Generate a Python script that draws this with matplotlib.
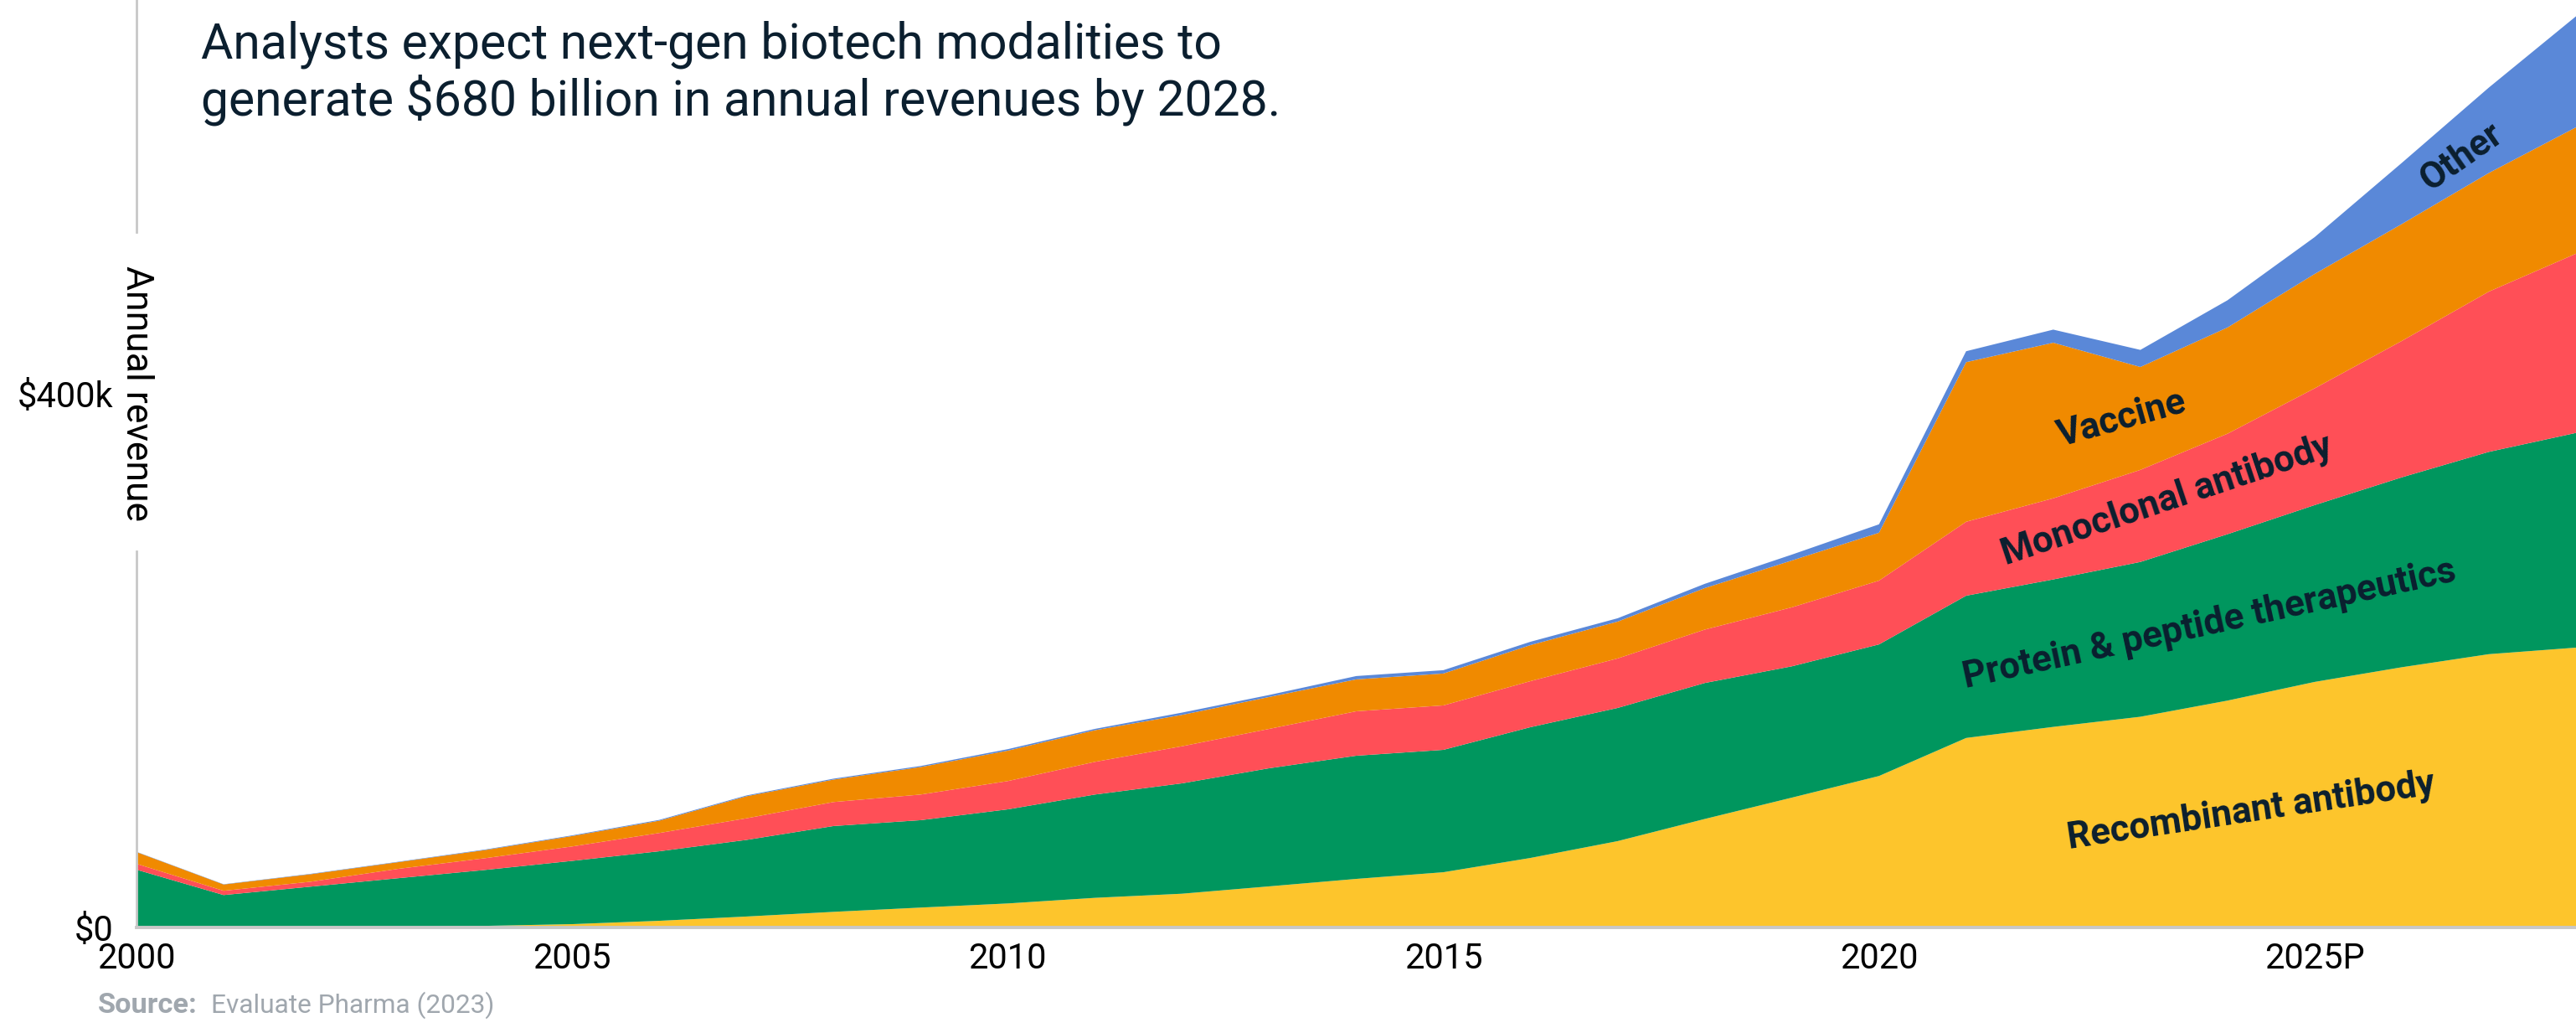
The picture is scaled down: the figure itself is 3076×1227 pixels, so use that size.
import matplotlib
matplotlib.use("Agg")
import matplotlib.pyplot as plt
import numpy as np

plt.rcParams['font.family'] = ['Roboto', 'DejaVu Sans']

years = list(range(2000, 2029))
tick_years = [2000, 2005, 2010, 2015, 2020, 2025]
tick_labels = ['2000', '2005', '2010', '2015', '2020', '2025P']

# annual revenue
recombinant = [0, 0, 0, 0.3, 1.2, 2.5, 5.0, 8.2, 11.7, 14.9, 18.0, 22.2, 25.3, 30.8,
               36.4, 41.4, 52.1, 64.7, 81.3, 97.3, 113.5, 142.0, 150.3, 157.9, 170.0,
               184.0, 195.0, 204.8, 209.7]
protein = [43.3, 24.3, 30.6, 36.6, 41.9, 47.4, 52.1, 57.4, 64.3, 65.5, 70.5, 77.4, 82.7,
           88.5, 92.3, 91.7, 98.0, 99.8, 101.9, 98.4, 98.6, 106.6, 110.5, 116.0, 124.7,
           132.5, 142.3, 151.6, 160.9]
monoclonal = [4.4, 3.2, 3.7, 7.0, 8.8, 10.8, 13.7, 16.2, 18.0, 19.2, 21.2, 24.5, 27.8,
              29.5, 33.3, 33.3, 34.5, 37.1, 40.0, 44.2, 47.8, 55.4, 60.8, 69.0, 75.3,
              87.5, 102.2, 120.1, 134.3]
vaccine = [8.8, 4.7, 5.6, 5.0, 6.1, 7.8, 9.2, 16.5, 16.8, 20.6, 22.8, 23.7, 23.5, 23.9,
           23.9, 23.9, 27.0, 27.6, 31.1, 35.1, 35.9, 119.6, 116.6, 77.1, 79.6, 85.7,
           87.6, 88.9, 94.7]
other = [0.2, 0.2, 0.3, 0.3, 0.4, 0.5, 0.6, 0.6, 0.7, 0.8, 1.1, 1.0, 1.7, 1.5, 2.5, 2.5,
         2.5, 2.5, 3.2, 4.4, 6.3, 8.2, 9.8, 12.8, 20.4, 27.6, 45.8, 64.0, 83.2]

colors = ['#FDC52C', '#00965E', '#FF4F57', '#F08A00', '#5A88D8']
navy = '#0B1F2F'
gray = '#C8C8C8'

fig = plt.figure(figsize=(15.38, 6.135), dpi=200)
ax = fig.add_axes([163 / 3076, 1 - 1107 / 1227, 1 - 163 / 3076, 1107 / 1227])

ax.stackplot(years, recombinant, protein, monoclonal, vaccine, other,
             colors=colors, linewidth=0, edgecolor='none')

ax.set_xlim(2000, 2028)
ax.set_ylim(0, 695)
ax.set_xticks(tick_years)
ax.set_xticklabels(tick_labels)
ax.set_yticks([0, 400])
ax.set_yticklabels(['$0', '$400k'])
ax.tick_params(axis='both', length=0, labelsize=15, colors='black')
ax.tick_params(axis='y', pad=10)
ax.tick_params(axis='x', pad=6)
for lab in ax.get_yticklabels():
    lab.set_verticalalignment('center_baseline')

for s in ['top', 'right', 'left']:
    ax.spines[s].set_visible(False)
ax.spines['bottom'].set_color(gray)
ax.spines['bottom'].set_linewidth(1.4)
ax.spines['bottom'].set_zorder(5)

# y axis line, broken where the axis title sits
ax.axvline(2000, ymin=0, ymax=0.406, color=gray, lw=1.0, zorder=5, clip_on=False)
ax.axvline(2000, ymin=0.75, ymax=1.0, color=gray, lw=1.0, zorder=5, clip_on=False)
ax.text(0, 400, 'Annual revenue', transform=ax.get_yaxis_transform(),
        rotation=270, ha='center', va='center', fontsize=16, color='black',
        zorder=6, clip_on=False)

# series labels
lab_kw = dict(fontsize=15.8, fontweight='bold', color=navy, ha='center', va='center',
              rotation_mode='anchor', zorder=7)
ax.text(2024.27, 87, 'Recombinant antibody', rotation=8.5, **lab_kw)
ax.text(2023.79, 227, 'Protein & peptide therapeutics', rotation=12.3, **lab_kw)
ax.text(2023.31, 320, 'Monoclonal antibody', rotation=18.5, **lab_kw)
ax.text(2022.79, 381, 'Vaccine', rotation=15.5, **lab_kw)
ax.text(2026.68, 577, 'Other', rotation=35, **lab_kw)

fig.text(240 / 3076, 1 - 24 / 1227,
         'Analysts expect next-gen biotech modalities to\ngenerate $680 billion in annual revenues by 2028.',
         fontsize=21.2, color=navy, ha='left', va='top', linespacing=1.15)

src_y = 1 - 1200 / 1227
fig.text(117 / 3076, src_y, 'Source:', fontsize=12.4, fontweight='bold',
         color='#A0A7AE', ha='left', va='center')
fig.text(252 / 3076, src_y, 'Evaluate Pharma (2023)', fontsize=11.4,
         color='#A0A7AE', ha='left', va='center')

fig.savefig('out.png', dpi=200)
